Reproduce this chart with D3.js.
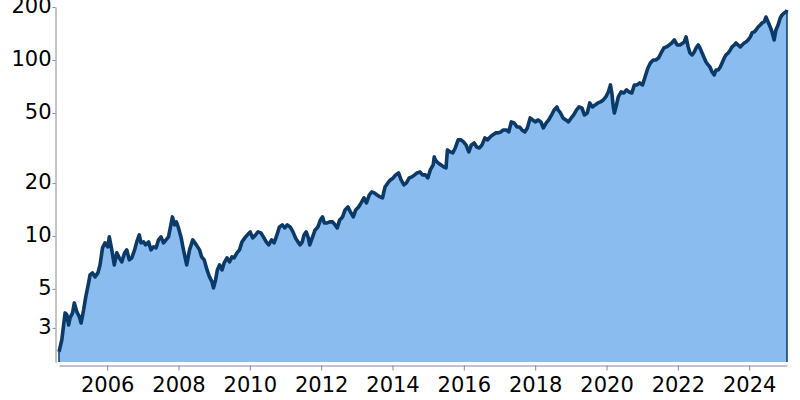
<!DOCTYPE html>
<html>
<head>
<meta charset="utf-8">
<script src="https://cdn.jsdelivr.net/npm/d3@7"></script>
<style>
  html, body { margin: 0; padding: 0; background: #fff; }
  svg { display: block; }
  .axis text { font-family: "DejaVu Sans", sans-serif; font-size: 21px; fill: #000; }
  .axis path, .axis line { stroke: #888; stroke-width: 1; }
</style>
</head>
<body>
<svg id="chart" width="800" height="400"></svg>
<script>
// ---- data (decimal year, value) ----
const years = [
 2004.65,2004.73,2004.82,2004.87,2004.92,2004.96,2005.03,2005.08,2005.15,2005.22,2005.27,2005.34,2005.40,2005.48,2005.52,2005.59,2005.66,2005.74,2005.80,2005.87,2005.94,
 2006.02,2006.06,2006.13,2006.20,2006.27,2006.34,2006.41,2006.49,2006.55,2006.62,2006.69,2006.77,2006.83,2006.90,2006.95,
 2007.02,2007.08,2007.16,2007.23,2007.30,2007.37,2007.44,2007.51,2007.58,2007.65,2007.72,2007.77,2007.83,2007.89,2007.94,
 2008.00,2008.07,2008.14,2008.23,2008.31,2008.40,2008.50,2008.59,2008.65,2008.72,2008.80,2008.87,2008.94,2008.98,
 2009.04,2009.09,2009.15,2009.22,2009.28,2009.36,2009.43,2009.50,2009.56,2009.64,2009.71,2009.78,2009.86,2009.93,
 2010.01,2010.08,2010.16,2010.23,2010.31,2010.38,2010.46,2010.53,2010.61,2010.68,2010.76,2010.83,2010.91,2010.98,
 2011.05,2011.13,2011.21,2011.28,2011.35,2011.41,2011.47,2011.52,2011.58,2011.64,2011.68,2011.76,2011.83,2011.91,2011.98,
 2012.04,2012.09,2012.17,2012.24,2012.32,2012.39,2012.45,2012.52,2012.60,2012.67,2012.75,2012.82,2012.90,2012.97,
 2013.05,2013.12,2013.20,2013.27,2013.35,2013.42,2013.49,2013.57,2013.65,2013.72,2013.79,2013.87,2013.94,
 2014.02,2014.09,2014.17,2014.24,2014.32,2014.39,2014.47,2014.54,2014.62,2014.69,2014.77,2014.84,2014.92,2014.99,
 2015.06,2015.14,2015.17,2015.20,2015.28,2015.36,2015.43,2015.50,2015.54,2015.62,2015.69,2015.76,2015.84,2015.92,2015.99,
 2016.06,2016.14,2016.21,2016.29,2016.36,2016.44,2016.51,2016.59,2016.66,2016.74,2016.81,2016.89,2016.96,
 2017.04,2017.11,2017.19,2017.26,2017.33,2017.41,2017.49,2017.56,2017.63,2017.71,2017.78,2017.86,2017.93,
 2018.01,2018.08,2018.16,2018.23,2018.31,2018.38,2018.46,2018.53,2018.61,2018.64,2018.71,2018.78,2018.86,2018.93,
 2019.01,2019.08,2019.16,2019.23,2019.31,2019.38,2019.46,2019.53,2019.61,2019.68,2019.76,2019.83,2019.91,2019.98,
 2020.05,2020.11,2020.15,2020.19,2020.22,2020.28,2020.33,2020.41,2020.49,2020.56,2020.63,2020.71,2020.78,2020.86,2020.93,
 2021.01,2021.08,2021.16,2021.23,2021.31,2021.38,2021.46,2021.53,2021.61,2021.68,2021.76,2021.83,2021.90,2021.98,
 2022.06,2022.14,2022.18,2022.23,2022.29,2022.34,2022.40,2022.46,2022.51,2022.57,2022.62,2022.68,2022.74,2022.79,2022.85,2022.90,2022.96,
 2023.02,2023.07,2023.13,2023.19,2023.24,2023.30,2023.35,2023.41,2023.47,2023.52,2023.58,2023.63,2023.69,2023.75,2023.80,2023.86,2023.91,2023.97,
 2024.03,2024.08,2024.14,2024.19,2024.25,2024.31,2024.36,2024.42,2024.47,2024.53,2024.59,2024.64,2024.70,2024.75,2024.81,2024.87,2024.92,2024.98,
 2025.03,2025.06
];
const values = [
 2.19,2.57,3.65,3.56,3.12,3.42,3.65,4.16,3.70,3.47,3.20,3.80,4.50,5.41,6.00,6.16,5.85,6.16,6.84,8.55,9.13,
 8.66,9.87,8.33,6.84,8.01,7.50,7.12,8.01,8.33,7.31,7.50,8.33,9.25,10.13,9.13,
 9.25,8.89,9.25,8.33,8.66,8.55,9.49,9.87,9.13,9.49,9.87,11.10,12.82,11.55,12.01,
 11.10,9.87,8.33,6.84,8.33,9.49,8.89,8.33,7.60,7.31,6.41,5.85,5.48,5.06,
 5.62,6.41,6.84,6.41,7.02,7.50,7.12,7.60,7.50,8.01,8.33,9.25,9.74,10.13,
 10.54,9.74,10.13,10.54,10.40,9.87,9.25,8.89,9.49,9.13,10.13,11.25,11.55,11.10,
 11.55,11.25,10.54,9.74,9.25,8.89,9.25,10.13,10.54,9.74,8.89,9.87,10.82,11.25,12.33,
 12.82,11.85,11.85,12.01,12.01,11.55,11.10,12.33,12.82,14.05,14.61,13.69,12.82,14.05,
 14.61,15.40,16.44,15.40,17.10,17.78,17.55,17.10,16.66,16.44,18.98,20.00,20.81,
 21.36,22.22,22.80,20.81,19.49,20.00,21.36,21.64,22.22,22.80,23.10,22.22,22.22,21.36,
 23.71,25.31,28.11,27.03,25.99,25.31,24.66,24.34,30.81,30.01,29.62,31.62,35.12,35.12,34.21,
 32.89,30.01,32.89,33.76,32.04,31.62,32.89,36.05,35.12,36.52,37.49,38.49,38.49,
 38.99,40.02,40.02,38.99,44.43,43.85,41.63,41.63,40.02,38.99,41.08,46.82,45.61,
 44.43,45.61,44.43,41.08,43.85,45.61,48.70,51.99,54.08,51.99,49.99,46.82,45.61,44.43,
 46.82,48.70,51.99,54.08,53.37,48.70,49.99,56.98,54.08,55.51,56.98,57.73,59.26,61.64,
 65.80,72.11,64.94,54.08,49.99,55.51,61.64,65.80,64.94,67.54,65.80,64.94,72.11,72.11,74.02,
 72.11,80.07,90.07,96.16,100.0,100.0,102.7,109.6,117.0,118.6,121.7,124.9,129.9,121.7,
 121.7,124.9,126.6,135.1,118.6,109.6,106.8,111.1,117.0,121.7,117.0,109.6,102.7,97.4,93.7,91.2,85.5,
 82.2,87.7,87.7,91.2,96.2,102.7,106.8,109.6,114.0,118.6,121.7,124.9,121.7,118.6,121.7,124.9,126.6,129.9,
 135.1,142.4,144.3,148.1,154.0,158.1,162.3,164.4,175.5,164.4,154.0,144.3,129.9,148.1,158.1,173.2,180.2,184.9,
 187.4,192.3
];
const yDomain = [1.92, 200];
const yTicks = [3, 5, 10, 20, 50, 100, 200];
const xTicks = [2006, 2008, 2010, 2012, 2014, 2016, 2018, 2020, 2022, 2024];

const data = years.map((t, i) => ({ t, v: values[i] }));

const svg = d3.select("#chart");

const x = d3.scaleLinear()
  .domain(d3.extent(years))
  .range([59, 787]);

const y = d3.scaleLog()
  .domain(yDomain)
  .range([362, 7]);

const area = d3.area()
  .x(d => x(d.t))
  .y0(y(yDomain[0]))
  .y1(d => y(d.v));

const line = d3.line()
  .x(d => x(d.t))
  .y(d => y(d.v));

svg.append("path")
  .datum(data)
  .attr("d", area)
  .attr("fill", "#8bbcf0");

// vertical edges at both ends of the series
const first = data[0], last = data[data.length - 1];
svg.append("path")
  .attr("d", line([{ t: first.t, v: yDomain[0] }, first]) + line([last, { t: last.t, v: yDomain[0] }]))
  .attr("fill", "none")
  .attr("stroke", "#0b3a68")
  .attr("stroke-width", 1.5);

svg.append("path")
  .datum(data)
  .attr("d", line)
  .attr("fill", "none")
  .attr("stroke", "#0b3a68")
  .attr("stroke-width", 3.6)
  .attr("stroke-linejoin", "round");

// axes
const xAxis = d3.axisBottom(x)
  .tickValues(xTicks)
  .tickFormat(d3.format("d"))
  .tickSize(5)
  .tickSizeOuter(0)
  .tickPadding(7);

svg.append("g")
  .attr("class", "axis")
  .attr("transform", "translate(0,365.5)")
  .call(xAxis);

const yAxis = d3.axisLeft(y)
  .tickValues(yTicks)
  .tickFormat(d3.format("d"))
  .tickSize(3)
  .tickSizeOuter(0)
  .tickPadding(1);

const gy = svg.append("g")
  .attr("class", "axis")
  .attr("transform", "translate(55.5,0)")
  .call(yAxis);
gy.selectAll("text").attr("dy", "0.25em");
</script>
</body>
</html>
